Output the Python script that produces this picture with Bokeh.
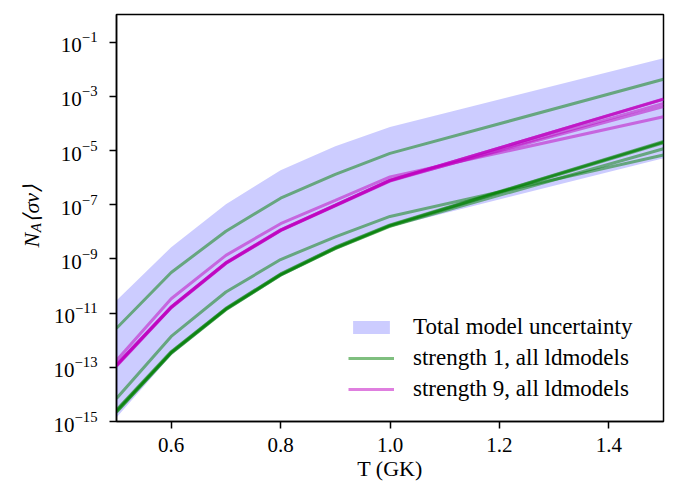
from math import pi
from bokeh.plotting import figure
from bokeh.models import Range1d, FixedTicker, Label, Legend, LegendItem
from bokeh.embed import file_html
from bokeh.resources import INLINE

# ---- data ----
T = [0.5, 0.6, 0.7, 0.8, 0.9, 1.0, 1.5]

band_upper = [2.95e-11, 2.7e-9, 1.05e-7, 1.86e-6, 1.45e-5, 7.4e-5, 2.57e-2]
band_lower = [1.4e-15, 2.8e-13, 1.17e-11, 2.2e-10, 2.2e-9, 1.5e-8, 5.2e-6]

s1_ld1 = [2.75e-12, 3.16e-10, 1.05e-8, 1.74e-7, 1.32e-6, 7.9e-6, 4.27e-3]
s1_ld2 = [7.1e-15, 1.38e-12, 6.0e-11, 9.5e-10, 6.5e-9, 3.7e-8, 6.8e-6]
s1_ld3 = [2.5e-15, 3.6e-13, 1.45e-11, 2.7e-10, 2.6e-9, 1.74e-8, 2.04e-5]
s1_ld4 = [2.3e-15, 3.4e-13, 1.38e-11, 2.55e-10, 2.45e-9, 1.65e-8, 1.95e-5]
s1_ld5 = [2.2e-15, 3.3e-13, 1.33e-11, 2.5e-10, 2.4e-9, 1.6e-8, 1.17e-5]
s1_ld6 = [2.7e-15, 3.8e-13, 1.5e-11, 2.8e-10, 2.7e-9, 1.8e-8, 2.15e-5]

s9_ld1 = [1.8e-13, 3.4e-11, 1.35e-9, 2.0e-8, 1.45e-7, 1.07e-6, 1.78e-4]
s9_ld2 = [1.2e-13, 1.66e-11, 7.1e-10, 1.15e-8, 9.5e-8, 7.9e-7, 7.9e-4]
s9_ld3 = [1.15e-13, 1.6e-11, 6.9e-10, 1.12e-8, 9.2e-8, 7.7e-7, 8.1e-4]
s9_ld4 = [1.25e-13, 1.7e-11, 7.3e-10, 1.18e-8, 9.7e-8, 8.1e-7, 7.7e-4]
s9_ld5 = [1.1e-13, 1.58e-11, 6.8e-10, 1.1e-8, 9.0e-8, 7.5e-7, 5.5e-4]
s9_ld6 = [1.22e-13, 1.68e-11, 7.2e-10, 1.16e-8, 9.6e-8, 8.0e-7, 4.2e-4]

strength1 = [s1_ld1, s1_ld2, s1_ld3, s1_ld4, s1_ld5, s1_ld6]
strength9 = [s9_ld1, s9_ld2, s9_ld3, s9_ld4, s9_ld5, s9_ld6]

x_ticks = [0.6, 0.8, 1.0, 1.2, 1.4]
x_tick_labels = ["0.6", "0.8", "1.0", "1.2", "1.4"]
y_ticks = [1e-15, 1e-13, 1e-11, 1e-9, 1e-7, 1e-5, 1e-3, 1e-1]

label_band = "Total model uncertainty"
label_s1 = "strength 1, all ldmodels"
label_s9 = "strength 9, all ldmodels"

FONT = "Liberation Serif"

p = figure(frame_width=547, frame_height=407,
           min_border_left=116, min_border_right=20,
           min_border_top=14, min_border_bottom=64,
           y_axis_type="log",
           x_range=Range1d(0.5, 1.5), y_range=Range1d(1e-15, 1.05),
           output_backend="svg", toolbar_location=None)

r_band = p.varea(x=T, y1=band_lower, y2=band_upper, fill_color="blue", fill_alpha=0.2)
r_s1 = [p.line(T, ys, line_color="green", line_alpha=0.5, line_width=3)
        for ys in strength1]
r_s9 = [p.line(T, ys, line_color="#bf00bf", line_alpha=0.5, line_width=3)
        for ys in strength9]

p.xgrid.visible = False
p.ygrid.visible = False
p.outline_line_color = "black"
p.outline_line_width = 1.5
p.outline_line_alpha = 1

p.xaxis.ticker = FixedTicker(ticks=x_ticks, minor_ticks=[])
p.xaxis.major_label_overrides = dict(zip(x_ticks, x_tick_labels))
p.yaxis.ticker = FixedTicker(ticks=y_ticks, minor_ticks=[])

for ax in (p.xaxis[0], p.yaxis[0]):
    ax.major_tick_in = 0
    ax.major_tick_out = 7
    ax.minor_tick_line_color = None
    ax.axis_line_width = 1.5
    ax.major_tick_line_width = 1.5
    ax.major_tick_line_color = "black"
    ax.axis_line_color = "black"
    ax.major_label_text_font = FONT
    ax.major_label_text_font_size = "21px"
    ax.major_label_text_color = "black"
p.xaxis.major_label_standoff = 9
p.yaxis.major_label_standoff = 12

p.xaxis.axis_label = "T (GK)"
p.xaxis.axis_label_text_font = FONT
p.xaxis.axis_label_text_font_size = "22px"
p.xaxis.axis_label_text_font_style = "normal"
p.xaxis.axis_label_text_color = "black"
p.xaxis.axis_label_standoff = 1

# y-axis label N_A<sigma v>: rotated labels placed beside the frame (subscript A)
ylab_parts = [("⟨σv⟩", 0.3447, 2.2e-8, "22px", "left"),
              ("A", 0.3520, 9.6e-9, "15px", "left"),
              ("N", 0.3447, 2.64e-9, "22px", "right")]
for txt, xs, ys, fs, side in ylab_parts:
    p.add_layout(Label(x=xs, y=ys, x_units="data", y_units="data", text=txt,
                       angle=pi / 2, text_font=FONT, text_font_size=fs,
                       text_font_style="italic", text_align="left",
                       text_baseline="alphabetic", text_color="black"), side)

leg = Legend(items=[LegendItem(label=label_band, renderers=[r_band]),
                    LegendItem(label=label_s1, renderers=[r_s1[0]]),
                    LegendItem(label=label_s9, renderers=[r_s9[0]])])
leg.location = (232, 19)
leg.padding = 0
leg.margin = 0
leg.spacing = 5
leg.border_line_alpha = 0
leg.background_fill_alpha = 0
leg.glyph_width = 46
leg.glyph_height = 16
leg.label_standoff = 19
leg.label_text_font = FONT
leg.label_text_font_size = "23px"
leg.label_text_color = "black"
p.add_layout(leg, "center")

open("out.html", "w").write(file_html(p, INLINE))
